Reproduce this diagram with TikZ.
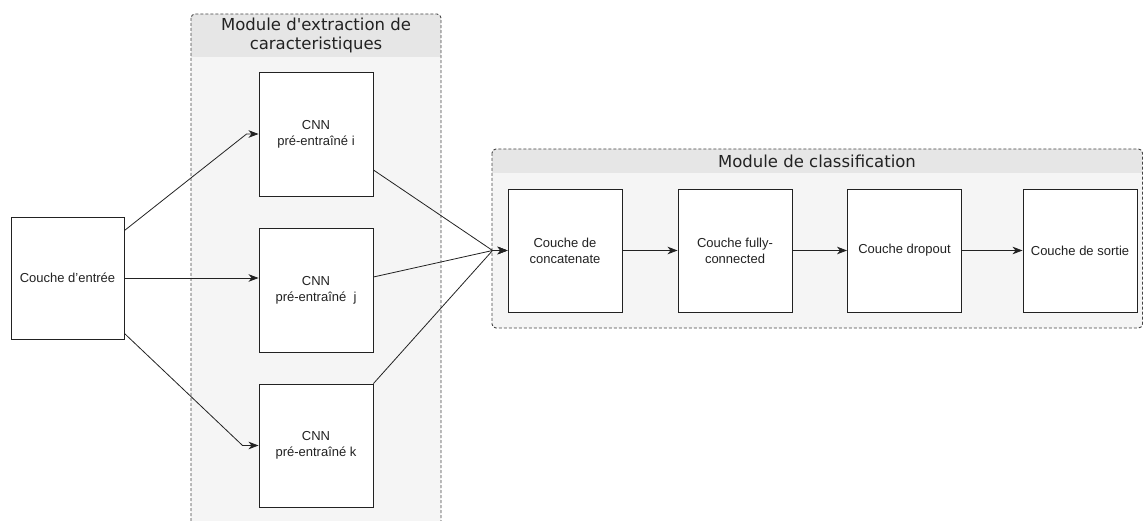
\documentclass[tikz,border=0pt]{standalone}
\usepackage{fontspec}
\setmainfont{Liberation Sans}
\newfontfamily\titlefont{DejaVu Sans}
\usetikzlibrary{arrows.meta,calc}
\definecolor{modbody}{HTML}{F5F5F5}
\definecolor{modhead}{HTML}{E6E6E6}
\definecolor{modline}{HTML}{444444}
\definecolor{edge}{HTML}{222222}
\definecolor{txt}{HTML}{222222}
\tikzset{
  x=1pt,y=-1pt,
  layer/.style={draw=edge,line width=0.9pt,fill=white,minimum width=114pt,minimum height=123pt,
    align=center,inner sep=0pt,font=\fontsize{13}{15.8}\selectfont,text=txt},
  conn/.style={draw=edge,line width=0.8pt,-{Stealth[length=10pt,width=7.5pt,inset=3pt]}},
  modtitle/.style={font=\titlefont\fontsize{16.5}{18.5}\selectfont,align=center,text=txt,inner sep=0pt},
  modborder/.style={draw=modline,dashed,dash pattern=on 3pt off 2pt,line width=0.9pt,rounded corners=4pt}
}
\begin{document}
\begin{tikzpicture}
\useasboundingbox (0,0) rectangle (1144,521);
% extraction module
\fill[modbody,rounded corners=4pt] (191,14) rectangle (441,540);
\begin{scope}
\clip[rounded corners=4pt] (191,14) rectangle (441,540);
\fill[modhead] (191,14) rectangle (441,57);
\end{scope}
\draw[modborder] (191,14) rectangle (441,540);
\node[modtitle] (t1) at (316,35.5) {Module d'extraction de\\caracteristiques};
% classification module
\fill[modbody,rounded corners=4pt] (492,149) rectangle (1142.5,328);
\begin{scope}
\clip[rounded corners=4pt] (492,149) rectangle (1142.5,328);
\fill[modhead] (492,149) rectangle (1142.5,173);
\end{scope}
\draw[modborder] (492,149) rectangle (1142.5,328);
\node[modtitle] (t2) at (817,161) {Module de classification};
% nodes
\node[layer,minimum width=113pt,minimum height=122pt] (in) at (67.5,278) {Couche d'entrée};
\node[layer,minimum height=124pt] (cnni) at (316,134) {CNN\\pré-entraîné i};
\node[layer,minimum height=124pt] (cnnj) at (316,290) {CNN\\pré-entraîné\ \ j};
\node[layer] (cnnk) at (316,445.5) {CNN\\pré-entraîné k};
\node[layer] (concat) at (565,250.5) {Couche de\\concatenate};
\node[layer] (fc) at (735,250.5) {Couche fully-\\connected};
\node[layer] (drop) at (904.5,250.5) {Couche dropout};
\node[layer] (out) at (1080,250.5) {Couche de sortie};
% junction points
\coordinate (ji) at ([xshift=-12pt]cnni.west);
\coordinate (jk) at ([xshift=-16pt]cnnk.west);
\coordinate (jc) at ([xshift=-15pt]concat.west);
% edges
\draw[conn] ([yshift=-14pt]in.north east) -- (ji) -- (cnni.west);
\draw[conn] (in.east) -- (in.east -| cnnj.west);
\draw[conn] ([yshift=6pt]in.south east) -- (jk) -- (cnnk.west);
\draw[conn] ([yshift=-36pt]cnni.east) -- (jc) -- (concat.west);
\draw[conn] ([yshift=13pt]cnnj.east) -- (jc) -- (concat.west);
\draw[conn] (cnnk.north east) -- (jc) -- (concat.west);
\draw[conn] (concat) -- (fc);
\draw[conn] (fc) -- (drop);
\draw[conn] (drop) -- (out);
\end{tikzpicture}
\end{document}
